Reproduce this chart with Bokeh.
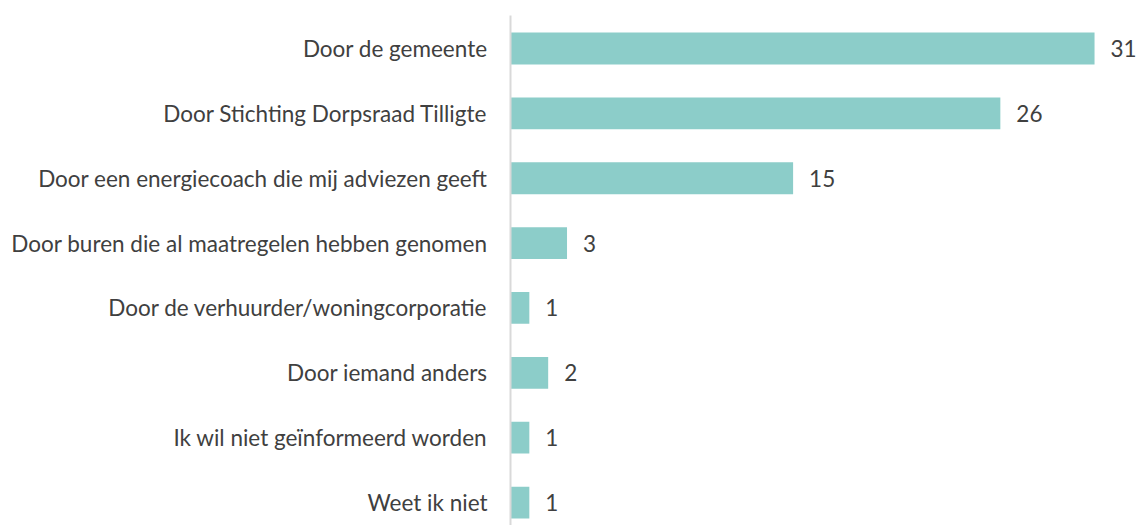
from bokeh.plotting import figure
from bokeh.models import Range1d, FixedTicker, ColumnDataSource
from bokeh.core.properties import value
from bokeh.embed import file_html
from bokeh.resources import INLINE

categories = [
    "Door de gemeente",
    "Door Stichting Dorpsraad Tilligte",
    "Door een energiecoach die mij adviezen geeft",
    "Door buren die al maatregelen hebben genomen",
    "Door de verhuurder/woningcorporatie",
    "Door iemand anders",
    "Ik wil niet geïnformeerd worden",
    "Weet ik niet",
]
counts = [31, 26, 15, 3, 1, 2, 1, 1]

n = len(categories)
ypos = [n - 1 - i for i in range(n)]
src = ColumnDataSource(dict(y=ypos, v=counts, lab=[str(c) for c in counts]))

FONT = "Lato"
COLOR = "#404040"
BAR = "#8ccdc9"

p = figure(width=1137, height=525, output_backend="svg", toolbar_location=None,
           x_range=Range1d(0, 33.28), y_range=Range1d(-0.354, 7.509),
           min_border_left=510, min_border_right=0, min_border_top=15, min_border_bottom=0,
           outline_line_color=None)
p.xaxis.visible = False
p.xgrid.visible = False
p.ygrid.visible = False

p.hbar(y="y", right="v", left=0, height=0.49, source=src, color=BAR, line_color=None)
p.text(x="v", y="y", text="lab", source=src, x_offset=16, text_align="left",
       text_baseline="middle", text_font=value(FONT), text_font_size="22.5px",
       text_color=COLOR)

ya = p.yaxis[0]
ya.ticker = FixedTicker(ticks=ypos)
ya.major_label_overrides = {y: c for y, c in zip(ypos, categories)}
ya.axis_line_color = "#d9d9d9"
ya.axis_line_width = 2
ya.major_tick_line_color = None
ya.minor_tick_line_color = None
ya.major_label_standoff = 17
ya.major_label_text_font = FONT
ya.major_label_text_font_size = "22.5px"
ya.major_label_text_color = COLOR

open("out.html", "w").write(file_html(p, INLINE))
